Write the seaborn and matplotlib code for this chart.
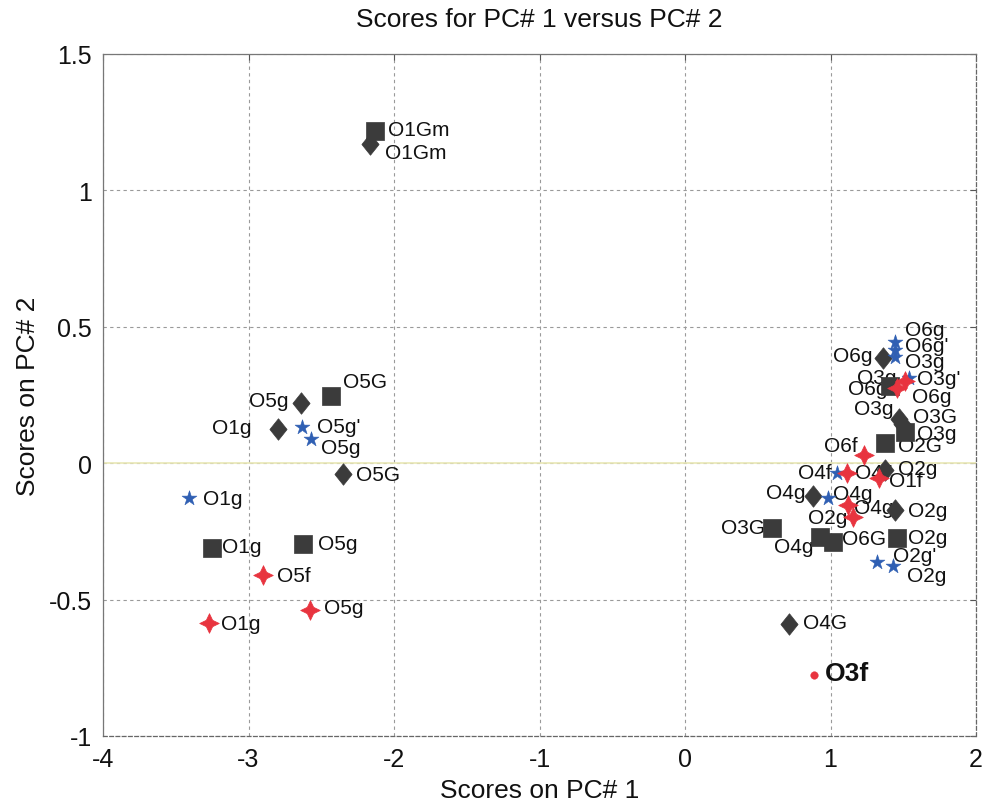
import matplotlib
matplotlib.use("Agg")
import matplotlib.pyplot as plt
import seaborn as sns
import numpy as np

sns.set_theme(style="white")
plt.rcParams['font.family'] = ['Liberation Sans', 'DejaVu Sans']

# ---- data ----
sq_x = [-2.13, -2.43, -3.25, -2.625, 1.41, 1.512, 1.375, 0.598, 0.928, 1.02, 1.457]
sq_y = [1.217, 0.246, -0.31, -0.298, 0.283, 0.114, 0.074, -0.239, -0.272, -0.29, -0.276]
sq_lab = ["O1Gm", "O5G", "O1g", "O5g", "O6g", "O3g", "O2G", "O3G", "O4g", "O6G", "O2g"]

dm_x = [-2.165, -2.64, -2.80, -2.35, 0.715, 1.36, 1.471, 1.491, 1.375, 0.88, 1.443]
dm_y = [1.17, 0.22, 0.125, -0.04, -0.588, 0.386, 0.162, 0.143, -0.026, -0.12, -0.173]
dm_lab = ["O1Gm", "O5g", "O1g", "O5G", "O4G", "O6g", "O3g", "O3G", "O2g", "O4g", "O2g"]

bl_x = [-2.63, -2.57, -3.41, 1.443, 1.443, 1.443, 1.54, 1.045, 0.98, 1.32, 1.43]
bl_y = [0.132, 0.088, -0.129, 0.445, 0.415, 0.39, 0.312, -0.037, -0.129, -0.364, -0.375]
bl_lab = ["O5g'", "O5g", "O1g", "O6g", "O6g'", "O3g", "O3g'", "O4f", "O4g", "O2g'", "O2g"]

rd_x = [-2.90, -2.58, -3.27, 1.457, 1.51, 1.23, 1.11, 1.33, 1.12, 1.155]
rd_y = [-0.408, -0.537, -0.585, 0.276, 0.30, 0.03, -0.037, -0.055, -0.154, -0.199]
rd_lab = ["O5f", "O5g", "O1g", "O6g", "O3g", "O6f", "O4f'", "O1f", "O4g", "O2g"]

o3f_x = [0.886]
o3f_y = [-0.776]
o3f_lab = ["O3f"]

# label offsets (pixels) – styling only
sq_off = [(13, 2), (12, 15), (10, 1), (15, 1), (-3, -3), (12, -1), (13, -2), (-7, 1), (-7, -9), (9, 4), (11, 1)]
dm_off = [(15, -8), (-12, 3), (-26, 2), (13, 0), (14, 1), (-10, 2), (-6, 11), (11, 8), (13, 2), (-8, 3), (13, 0)]
bl_off = [(15, 1), (10, -8), (14, 0), (10, 12), (10, 4), (10, -5), (8, 0), (-5, 1), (5, 5), (16, 7), (14, -10)]
rd_off = [(14, -1), (14, 2), (12, -1), (15, -9), (-8, 4), (-6, 10), (8, 1), (10, -2), (6, -2), (-6, 0)]

W, H = 984, 804
fig = plt.figure(figsize=(W / 100, H / 100), dpi=100)
ax = fig.add_axes([103 / W, 1 - 737 / H, (976 - 103) / W, (737 - 55) / H])

dark = "#3b3b3b"
blue = "#2f5fb3"
red = "#e8343f"

# marker glyphs
diamond = [(0, 1), (0.8, 0), (0, -1), (-0.8, 0), (0, 1)]
ang = np.deg2rad(np.arange(0, 360, 45) + 90)
rad = np.where(np.arange(8) % 2 == 0, 1.0, 0.46)
star4 = list(zip(rad * np.cos(ang), rad * np.sin(ang))) + [(0, 1)]

ax.axhline(0, color="#e9e7b5", lw=1.2, zorder=1)

sns.scatterplot(x=sq_x, y=sq_y, marker="s", s=150, color=dark, edgecolor=dark, linewidth=0.5, ax=ax, zorder=3)
sns.scatterplot(x=dm_x, y=dm_y, marker=diamond, s=240, color=dark, edgecolor=dark, linewidth=0.5, ax=ax, zorder=3)
sns.scatterplot(x=bl_x, y=bl_y, marker="*", s=125, color=blue, edgecolor=blue, linewidth=0.4, ax=ax, zorder=4)
sns.scatterplot(x=rd_x, y=rd_y, marker=star4, s=200, color=red, edgecolor=red, linewidth=0.5, ax=ax, zorder=5)
sns.scatterplot(x=o3f_x, y=o3f_y, marker="o", s=30, color=red, edgecolor=red, linewidth=0.3, ax=ax, zorder=5)

def put_labels(xs, ys, labs, offs, **kw):
    for x, y, t, (dx, dy) in zip(xs, ys, labs, offs):
        ax.annotate(t, (x, y), xytext=(dx, dy), textcoords="offset pixels",
                    ha="left" if dx >= 0 else "right", va="center",
                    fontsize=15, color="#111111", zorder=2, **kw)

put_labels(sq_x, sq_y, sq_lab, sq_off)
put_labels(dm_x, dm_y, dm_lab, dm_off)
put_labels(bl_x, bl_y, bl_lab, bl_off)
put_labels(rd_x, rd_y, rd_lab, rd_off)
ax.annotate(o3f_lab[0], (o3f_x[0], o3f_y[0]), xytext=(11, 2), textcoords="offset pixels",
            ha="left", va="center", fontsize=19, fontweight="bold", color="#111111", zorder=2)

ax.set_xlim(-4, 2)
ax.set_ylim(-1, 1.5)
ax.set_xticks([-4, -3, -2, -1, 0, 1, 2])
ax.set_yticks([-1, -0.5, 0, 0.5, 1, 1.5])
ax.set_xticklabels(["-4", "-3", "-2", "-1", "0", "1", "2"])
ax.set_yticklabels(["-1", "-0.5", "0", "0.5", "1", "1.5"])
ax.tick_params(direction="in", length=4, width=0.8, colors="#555555", labelcolor="#111111",
               labelsize=18, top=True, right=True, pad=8)
ax.grid(True, linestyle=(0, (3, 3)), color="#9a9a9a", linewidth=0.8)
for side in ["top", "left"]:
    ax.spines[side].set_color("#777777")
    ax.spines[side].set_linewidth(0.9)
for side in ["bottom", "right"]:
    ax.spines[side].set_color("#666666")
    ax.spines[side].set_linewidth(0.9)
    ax.spines[side].set_linestyle((0, (3, 2)))

ax.set_title("Scores for PC# 1 versus PC# 2", fontsize=19, color="#111111", pad=20)
ax.set_xlabel("Scores on PC# 1", fontsize=19, color="#111111", labelpad=5)
ax.set_ylabel("Scores on PC# 2", fontsize=19, color="#111111", labelpad=6)

fig.savefig("out.png", dpi=100)
